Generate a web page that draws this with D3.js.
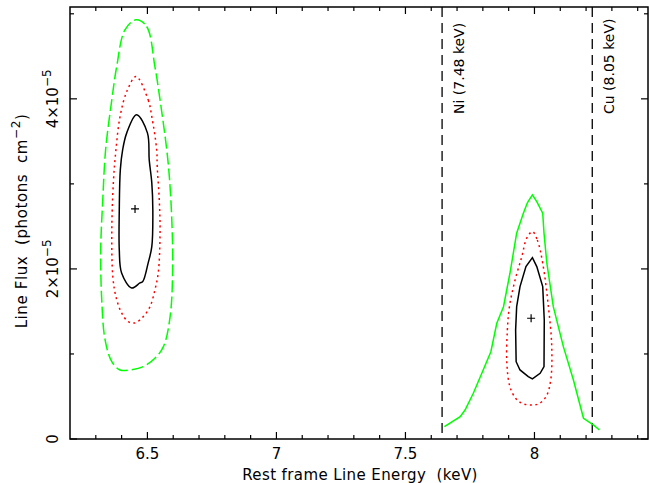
<!DOCTYPE html>
<html>
<head>
<meta charset="utf-8">
<script src="https://cdn.jsdelivr.net/npm/d3@7"></script>
<style>
  body { margin: 0; background: #fff; }
  text { font-family: "DejaVu Sans", sans-serif; font-size: 15px; fill: #000; white-space: pre; }
</style>
</head>
<body>
<svg id="chart" width="649" height="483"></svg>
<script>
// Confidence contours, flux in units of 1e-5 photons cm^-2
// Left line (~6.45 keV)
const feBest = [6.452, 2.706];
const feInner = [ // black, solid
  [6.458, 3.812], [6.500, 3.600], [6.507, 3.282], [6.517, 3.012], [6.521, 2.694],
  [6.517, 2.262], [6.503, 2.071], [6.482, 1.851], [6.471, 1.835], [6.439, 1.776],
  [6.400, 1.953], [6.391, 2.224], [6.391, 2.694], [6.395, 3.165], [6.404, 3.400],
  [6.420, 3.600]
];
const feMid = [ // red, dotted
  [6.456, 4.262], [6.503, 3.988], [6.517, 3.792], [6.536, 3.400], [6.538, 3.204],
  [6.546, 2.812], [6.549, 2.424], [6.542, 1.953], [6.529, 1.753], [6.510, 1.556],
  [6.484, 1.439], [6.452, 1.365], [6.426, 1.380], [6.400, 1.482], [6.378, 1.674],
  [6.366, 1.909], [6.362, 2.424], [6.368, 3.012], [6.378, 3.400], [6.394, 3.792],
  [6.420, 4.086]
];
const feOuter = [ // green, dashed
  [6.456, 4.929], [6.497, 4.851], [6.529, 4.380], [6.549, 3.988], [6.575, 3.400],
  [6.585, 3.086], [6.594, 2.615], [6.598, 2.027], [6.588, 1.439], [6.562, 1.086],
  [6.529, 0.949], [6.484, 0.851], [6.433, 0.812], [6.394, 0.812], [6.362, 0.909],
  [6.336, 1.165], [6.323, 1.635], [6.319, 2.224], [6.327, 2.812], [6.338, 3.400],
  [6.362, 3.988], [6.381, 4.380], [6.413, 4.812]
];

// Right line (~8 keV)
const secBest = [7.987, 1.42];
const secInner = [
  [7.992, 2.133], [8.009, 2.027], [8.032, 1.792], [8.038, 1.400], [8.037, 0.851],
  [8.022, 0.773], [7.992, 0.706], [7.976, 0.733], [7.944, 0.812], [7.929, 0.909],
  [7.927, 1.282], [7.931, 1.556], [7.944, 1.792], [7.967, 2.027]
];
const secMid = [
  [7.992, 2.439], [8.011, 2.341], [8.032, 2.067], [8.054, 1.556], [8.067, 1.086],
  [8.063, 0.694], [8.045, 0.498], [8.015, 0.412], [7.983, 0.400], [7.951, 0.420],
  [7.927, 0.479], [7.905, 0.615], [7.893, 0.891], [7.895, 1.282], [7.903, 1.556],
  [7.925, 1.871], [7.951, 2.145], [7.970, 2.361]
];
const secOuter = [ // open curve, solid green
  [7.651, 0.145], [7.712, 0.262], [7.731, 0.341], [7.763, 0.538], [7.796, 0.773],
  [7.831, 1.027], [7.854, 1.361], [7.880, 1.556], [7.905, 1.949], [7.931, 2.420],
  [7.957, 2.655], [7.973, 2.780], [7.992, 2.871], [8.009, 2.792], [8.032, 2.655],
  [8.037, 2.420], [8.048, 2.067], [8.073, 1.556], [8.112, 1.086], [8.151, 0.694],
  [8.190, 0.244], [8.228, 0.165], [8.252, 0.106]
];

// Instrumental lines (observed frame positions) and their labels
const refLines = [7.642, 8.224];
const refLabels = ['Ni (7.48 keV)', 'Cu (8.05 keV)'];

const xMajor = [6.5, 7, 7.5, 8];
const xMajorLabels = ['6.5', '7', '7.5', '8'];
const xMinor = [6.3, 6.4, 6.6, 6.7, 6.8, 6.9, 7.1, 7.2, 7.3, 7.4, 7.6, 7.7, 7.8, 7.9, 8.1, 8.2, 8.3, 8.4];
const yMajor = [0, 2, 4];
const yMinor = [1, 3, 5];

const svg = d3.select('#chart');
const pL = 70, pR = 648, pT = 7, pB = 439;

const x = d3.scaleLinear().domain([6.2, 8.44]).range([pL, pR]);
const y = d3.scaleLinear().domain([0, 5.08]).range([pB, pT]);

const line = d3.line().x(d => x(d[0])).y(d => y(d[1]));
const closed = d3.line().x(d => x(d[0])).y(d => y(d[1])).curve(d3.curveLinearClosed);
const smooth = d3.line().x(d => x(d[0])).y(d => y(d[1])).curve(d3.curveCatmullRomClosed.alpha(0.5));

// Ticks on all four sides, pointing inward
const tk = svg.append('g').attr('stroke', '#000').attr('stroke-width', 1.2);
function xTicks(vals, len) {
  vals.forEach(v => {
    tk.append('line').attr('x1', x(v)).attr('x2', x(v)).attr('y1', pB).attr('y2', pB - len);
    tk.append('line').attr('x1', x(v)).attr('x2', x(v)).attr('y1', pT).attr('y2', pT + len);
  });
}
function yTicks(vals, len) {
  vals.forEach(v => {
    tk.append('line').attr('y1', y(v)).attr('y2', y(v)).attr('x1', pL).attr('x2', pL + len);
    tk.append('line').attr('y1', y(v)).attr('y2', y(v)).attr('x1', pR).attr('x2', pR - len);
  });
}
xTicks(xMajor, 7);
xTicks(xMinor, 4);
yTicks(yMajor, 7);
yTicks(yMinor, 4);

// Frame
svg.append('rect')
  .attr('x', pL).attr('y', pT)
  .attr('width', pR - pL).attr('height', pB - pT)
  .attr('fill', 'none').attr('stroke', '#000').attr('stroke-width', 1.5);

// X tick labels
svg.append('g').selectAll('text').data(xMajor).enter().append('text')
  .attr('x', d => x(d)).attr('y', 459)
  .attr('text-anchor', 'middle')
  .text((d, i) => xMajorLabels[i]);

svg.append('text')
  .attr('x', (pL + pR) / 2 + 1).attr('y', 480)
  .attr('text-anchor', 'middle')
  .style('letter-spacing', '0.4px')
  .text('Rest frame Line Energy  (keV)');

// Y tick labels (rotated)
yMajor.forEach(v => {
  const t = svg.append('text')
    .attr('transform', `translate(58,${y(v)}) rotate(-90)`)
    .attr('text-anchor', 'middle');
  if (v === 0) {
    t.text('0');
  } else {
    t.append('tspan').text(v + '\u00d710');
    t.append('tspan').attr('dy', -7).style('font-size', '12px').text('\u22125');
  }
});

// Y axis title
const yt = svg.append('text')
  .attr('transform', 'translate(27,221) rotate(-90)')
  .attr('text-anchor', 'middle')
  .style('letter-spacing', '0.6px');
yt.append('tspan').text('Line Flux  (photons  cm');
yt.append('tspan').attr('dy', -7).style('font-size', '12px').text('\u22122');
yt.append('tspan').attr('dy', 7).text(')');

// Reference lines
refLines.forEach((e, i) => {
  svg.append('line')
    .attr('x1', x(e)).attr('x2', x(e)).attr('y1', pT).attr('y2', pB)
    .attr('stroke', '#000').attr('stroke-width', 1.3)
    .attr('stroke-dasharray', '10,6');
  svg.append('text')
    .attr('transform', `translate(${x(e) + 22},114) rotate(-90)`)
    .style('font-size', '14px')
    .text(refLabels[i]);
});

// Contours
const cg = svg.append('g').attr('fill', 'none').attr('stroke-width', 1.5);
cg.append('path').attr('d', smooth(feOuter)).attr('stroke', '#00ff00').attr('stroke-dasharray', '12,4');
cg.append('path').attr('d', smooth(feMid)).attr('stroke', '#ff0000').attr('stroke-dasharray', '2,3.5');
cg.append('path').attr('d', smooth(feInner)).attr('stroke', '#000');
cg.append('path').attr('d', line(secOuter)).attr('stroke', '#00ff00');
cg.append('path').attr('d', smooth(secMid)).attr('stroke', '#ff0000').attr('stroke-dasharray', '2,3.5');
cg.append('path').attr('d', closed(secInner)).attr('stroke', '#000');

// Best-fit markers
[feBest, secBest].forEach(p => {
  const px = x(p[0]), py = y(p[1]);
  svg.append('path')
    .attr('d', `M${px - 4},${py}H${px + 4}M${px},${py - 4}V${py + 4}`)
    .attr('stroke', '#000').attr('stroke-width', 1.2);
});
</script>
</body>
</html>
